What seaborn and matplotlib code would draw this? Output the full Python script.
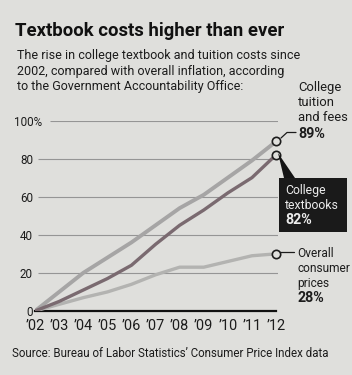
import pandas as pd
import seaborn as sns
import matplotlib.pyplot as plt
from matplotlib.patches import Polygon, Rectangle
from matplotlib.lines import Line2D
from matplotlib.transforms import ScaledTranslation

# values (percent change since 2002)
years = [2002, 2003, 2004, 2005, 2006, 2007, 2008, 2009, 2010, 2011, 2012]
tuition = [0, 10, 20, 28, 36, 45, 54, 61, 70, 79, 89]
textbooks = [0, 5, 11, 17, 24, 35, 45, 53, 62, 70, 82]
cpi = [0, 3.5, 7, 10, 14, 19, 23, 23, 26, 29, 30]

year_labels = ["\u201902", "\u201903", "\u201904", "\u201905", "\u201906", "\u201907",
               "\u201908", "\u201909", "\u201910", "\u201911", "\u201912"]
y_ticks = [0, 20, 40, 60, 80, 100]
y_labels = ["0", "20", "40", "60", "80", "100%"]

paper = "#dfdfdc"
ink = "#1c1c1c"

sns.set_theme(style="white")
plt.rcParams["font.family"] = ["Roboto", "DejaVu Sans"]

W, H = 352, 375
fig = plt.figure(figsize=(W / 100, H / 100), dpi=100, facecolor=paper)
renderer = fig.canvas.get_renderer()


def fx(x):
    return x / W


def fy(y):
    return 1 - y / H


def fit_size(s, width_px, **kw):
    # font size that makes s about width_px wide
    t = fig.text(0, 0, s, fontsize=10, **kw)
    w = t.get_window_extent(renderer).width
    t.remove()
    return 10 * width_px / w


ax = fig.add_axes([fx(35), fy(311), (278 - 35) / W, (311 - 120.5) / H])
ax.set_facecolor(paper)

df = pd.DataFrame({"year": years, "tuition": tuition, "textbooks": textbooks, "cpi": cpi})

# gridlines
ax.hlines([20, 40, 60, 80], 2002.12, 2012.08, color="#959595", lw=0.8, zorder=1)
ax.hlines([100], 2002.62, 2012.08, color="#959595", lw=0.8, zorder=1)

sns.lineplot(data=df, x="year", y="cpi", color="#b3b3b1", lw=2.4, ax=ax, zorder=3)
sns.lineplot(data=df, x="year", y="tuition", color="#a6a5a5", lw=2.8, ax=ax, zorder=3)
sns.lineplot(data=df, x="year", y="textbooks", color="#7a6a70", lw=2.4, ax=ax, zorder=4)

# end markers
ax.plot([years[-1]] * 3, [tuition[-1], textbooks[-1], cpi[-1]], "o", ms=6, mfc=paper,
        mec=ink, mew=1.2, zorder=6, clip_on=False)

ax.set_xlim(2002, 2012.08)
ax.set_ylim(0, 100)
ax.set_xticks(years)
ax.set_xticklabels(year_labels)
ax.set_yticks(y_ticks)
ax.set_yticklabels(y_labels)
ax.set_xlabel("")
ax.set_ylabel("")
for s in ["top", "right", "left"]:
    ax.spines[s].set_visible(False)
ax.spines["bottom"].set_color("#111111")
ax.spines["bottom"].set_linewidth(1.6)
ax.spines["bottom"].set_bounds(2002, 2012)
ax.tick_params(axis="x", direction="out", length=5, width=1, color="#111111", pad=1,
               labelsize=fit_size("\u201902", 19), labelcolor=ink)
ax.tick_params(axis="y", length=0, pad=1.5, labelsize=fit_size("80", 13), labelcolor=ink)
lab100 = ax.get_yticklabels()[-1]
lab100.set_transform(lab100.get_transform() + ScaledTranslation(9 / 100, 0, fig.dpi_scale_trans))

# title and subtitle
title = "Textbook costs higher than ever"
fig.text(fx(15), fy(36), title, fontsize=fit_size(title, 268, fontweight="bold"),
         fontweight="bold", color="#111111", va="baseline")
sub = ["The rise in college textbook and tuition costs since",
       "2002, compared with overall inflation, according",
       "to the Government Accountability Office:"]
sub_size = fit_size(sub[0], 281)
for i, line in enumerate(sub):
    fig.text(fx(17), fy(59 + i * 15.7), line, fontsize=sub_size, color=ink, va="baseline")

pct_size = fit_size("89%", 27, fontweight="bold")

# tuition label
tu_size = fit_size("and fees", 50)
for i, line in enumerate(["College", "tuition", "and fees"]):
    fig.text(fx(298), fy(91 + i * 15), line, fontsize=tu_size, color=ink, va="baseline")
fig.text(fx(298), fy(138), "89%", fontsize=pct_size, fontweight="bold", color=ink,
         va="baseline")
fig.add_artist(Line2D([fx(281), fx(287), fx(296)], [fy(138), fy(132.5), fy(132.5)],
                      color=ink, lw=0.9))

# textbooks box
fig.add_artist(Polygon([[fx(278), fy(153)], [fx(284), fy(178)], [fx(295), fy(178)]],
                       closed=True, color="#141414", lw=0))
fig.add_artist(Rectangle((fx(279), fy(232)), (347 - 279) / W, (232 - 177.5) / H,
                         color="#1a1a1a", lw=0))
tb_size = fit_size("textbooks", 54)
for i, line in enumerate(["College", "textbooks"]):
    fig.text(fx(285), fy(194 + i * 15), line, fontsize=tb_size, color="#ececec",
             va="baseline")
fig.text(fx(285), fy(224.5), "82%", fontsize=pct_size, fontweight="bold",
         color="#ececec", va="baseline")

# cpi label
fig.add_artist(Line2D([fx(280), fx(294)], [fy(252), fy(252)], color=ink, lw=0.9))
cp_size = fit_size("consumer", 53)
for i, line in enumerate(["Overall", "consumer", "prices"]):
    fig.text(fx(297), fy(257 + i * 14.8), line, fontsize=cp_size, color=ink, va="baseline")
fig.text(fx(297), fy(302), "28%", fontsize=pct_size, fontweight="bold", color=ink,
         va="baseline")

source = "Source: Bureau of Labor Statistics\u2019 Consumer Price Index data"
fig.text(fx(12), fy(357), source, fontsize=fit_size(source, 318), color=ink, va="baseline")

fig.savefig("out.png", dpi=100, facecolor=paper)
